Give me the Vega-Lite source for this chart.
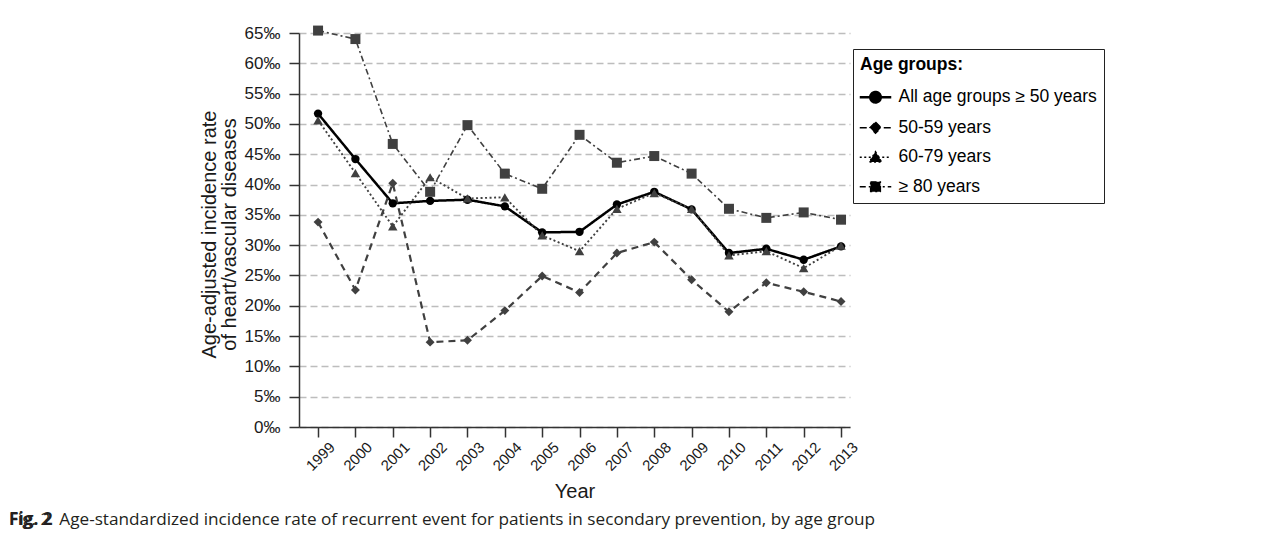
{
  "$schema": "https://vega.github.io/schema/vega-lite/v6.json",
  "width": 551,
  "height": 394,
  "autosize": {"type": "none"},
  "padding": {"left": 299, "top": 33, "right": 431, "bottom": 115},
  "background": "white",
  "config": {
    "view": {"stroke": null},
    "font": "Liberation Sans",
    "axis": {
      "domainColor": "#333333",
      "domainWidth": 1.5,
      "tickColor": "#333333",
      "tickWidth": 1.5,
      "tickSize": 10,
      "labelFont": "Liberation Sans",
      "labelColor": "#1a1a1a",
      "titleFont": "Liberation Sans",
      "titleColor": "#1a1a1a",
      "titleFontWeight": "normal"
    }
  },
  "title": {
    "text": "Fig. 2 \u00a0Age-standardized incidence rate of recurrent event for patients in secondary prevention, by age group",
    "subtitle": "Fig. 2",
    "orient": "bottom",
    "anchor": "start",
    "frame": "group",
    "offset": 10,
    "dx": -290,
    "font": "Open Sans",
    "fontSize": 17.2,
    "fontWeight": "normal",
    "color": "#231f20",
    "subtitleFont": "Open Sans",
    "subtitleFontSize": 17.2,
    "subtitleFontWeight": "bold",
    "subtitleColor": "#231f20",
    "subtitlePadding": -17.2
  },
  "data": {
    "values": [
      {"year": 1999, "group": "All age groups ≥ 50 years", "rate": 51.7},
      {"year": 2000, "group": "All age groups ≥ 50 years", "rate": 44.2},
      {"year": 2001, "group": "All age groups ≥ 50 years", "rate": 36.9},
      {"year": 2002, "group": "All age groups ≥ 50 years", "rate": 37.3},
      {"year": 2003, "group": "All age groups ≥ 50 years", "rate": 37.5},
      {"year": 2004, "group": "All age groups ≥ 50 years", "rate": 36.4},
      {"year": 2005, "group": "All age groups ≥ 50 years", "rate": 32.1},
      {"year": 2006, "group": "All age groups ≥ 50 years", "rate": 32.2},
      {"year": 2007, "group": "All age groups ≥ 50 years", "rate": 36.7},
      {"year": 2008, "group": "All age groups ≥ 50 years", "rate": 38.8},
      {"year": 2009, "group": "All age groups ≥ 50 years", "rate": 35.9},
      {"year": 2010, "group": "All age groups ≥ 50 years", "rate": 28.7},
      {"year": 2011, "group": "All age groups ≥ 50 years", "rate": 29.4},
      {"year": 2012, "group": "All age groups ≥ 50 years", "rate": 27.6},
      {"year": 2013, "group": "All age groups ≥ 50 years", "rate": 29.8},
      {"year": 1999, "group": "50-59 years", "rate": 33.8},
      {"year": 2000, "group": "50-59 years", "rate": 22.6},
      {"year": 2001, "group": "50-59 years", "rate": 40.2},
      {"year": 2002, "group": "50-59 years", "rate": 14.0},
      {"year": 2003, "group": "50-59 years", "rate": 14.3},
      {"year": 2004, "group": "50-59 years", "rate": 19.2},
      {"year": 2005, "group": "50-59 years", "rate": 24.9},
      {"year": 2006, "group": "50-59 years", "rate": 22.2},
      {"year": 2007, "group": "50-59 years", "rate": 28.7},
      {"year": 2008, "group": "50-59 years", "rate": 30.5},
      {"year": 2009, "group": "50-59 years", "rate": 24.3},
      {"year": 2010, "group": "50-59 years", "rate": 19.0},
      {"year": 2011, "group": "50-59 years", "rate": 23.8},
      {"year": 2012, "group": "50-59 years", "rate": 22.3},
      {"year": 2013, "group": "50-59 years", "rate": 20.7},
      {"year": 1999, "group": "60-79 years", "rate": 50.6},
      {"year": 2000, "group": "60-79 years", "rate": 41.9},
      {"year": 2001, "group": "60-79 years", "rate": 33.1},
      {"year": 2002, "group": "60-79 years", "rate": 41.2},
      {"year": 2003, "group": "60-79 years", "rate": 37.7},
      {"year": 2004, "group": "60-79 years", "rate": 37.9},
      {"year": 2005, "group": "60-79 years", "rate": 31.6},
      {"year": 2006, "group": "60-79 years", "rate": 29.0},
      {"year": 2007, "group": "60-79 years", "rate": 36.0},
      {"year": 2008, "group": "60-79 years", "rate": 38.6},
      {"year": 2009, "group": "60-79 years", "rate": 36.0},
      {"year": 2010, "group": "60-79 years", "rate": 28.3},
      {"year": 2011, "group": "60-79 years", "rate": 29.0},
      {"year": 2012, "group": "60-79 years", "rate": 26.2},
      {"year": 2013, "group": "60-79 years", "rate": 29.9},
      {"year": 1999, "group": "≥ 80 years", "rate": 65.4},
      {"year": 2000, "group": "≥ 80 years", "rate": 64.0},
      {"year": 2001, "group": "≥ 80 years", "rate": 46.7},
      {"year": 2002, "group": "≥ 80 years", "rate": 38.8},
      {"year": 2003, "group": "≥ 80 years", "rate": 49.8},
      {"year": 2004, "group": "≥ 80 years", "rate": 41.8},
      {"year": 2005, "group": "≥ 80 years", "rate": 39.3},
      {"year": 2006, "group": "≥ 80 years", "rate": 48.2},
      {"year": 2007, "group": "≥ 80 years", "rate": 43.6},
      {"year": 2008, "group": "≥ 80 years", "rate": 44.7},
      {"year": 2009, "group": "≥ 80 years", "rate": 41.8},
      {"year": 2010, "group": "≥ 80 years", "rate": 36.0},
      {"year": 2011, "group": "≥ 80 years", "rate": 34.5},
      {"year": 2012, "group": "≥ 80 years", "rate": 35.4},
      {"year": 2013, "group": "≥ 80 years", "rate": 34.2}
    ]
  },
  "encoding": {
    "x": {
      "field": "year",
      "type": "quantitative",
      "scale": {"domain": [1998.49, 2013.24], "nice": false, "zero": false},
      "axis": {
        "values": [1999, 2000, 2001, 2002, 2003, 2004, 2005, 2006, 2007, 2008, 2009, 2010, 2011, 2012, 2013],
        "format": "d",
        "grid": false,
        "labelAngle": -45,
        "labelAlign": "center",
        "labelBaseline": "middle",
        "labelPadding": 19,
        "labelOffset": 2,
        "labelFontSize": 15,
        "labelFlush": false,
        "labelOverlap": false,
        "title": "Year",
        "titleFontSize": 20,
        "titleBaseline": "top",
        "titleY": 54
      }
    },
    "y": {
      "field": "rate",
      "type": "quantitative",
      "scale": {"domain": [0, 65], "nice": false},
      "axis": {
        "values": [0, 5, 10, 15, 20, 25, 30, 35, 40, 45, 50, 55, 60, 65],
        "labelExpr": "datum.value + '‰'",
        "grid": true,
        "gridColor": "#bdbdbd",
        "gridDash": [7, 4],
        "gridWidth": 1.3,
        "labelFontSize": 17,
        "labelPadding": 9,
        "title": ["Age-adjusted incidence rate", "of heart/vascular diseases"],
        "titleFontSize": 20,
        "titleLineHeight": 20.5,
        "titleAngle": 270,
        "titleBaseline": "bottom",
        "titleAlign": "center",
        "titleX": -80,
        "titleY": 201
      }
    },
    "color": {
      "field": "group",
      "type": "nominal",
      "scale": {
        "domain": ["All age groups ≥ 50 years", "50-59 years", "60-79 years", "≥ 80 years", "c"],
        "range": ["#000000", "#404040", "#404040", "#404040", "#404040"]
      },
      "legend": null
    }
  },
  "layer": [
    {
      "mark": {"type": "line"},
      "encoding": {
        "strokeDash": {
          "field": "group",
          "type": "nominal",
          "scale": {
            "domain": ["All age groups ≥ 50 years", "50-59 years", "60-79 years", "≥ 80 years"],
            "range": [[1, 0], [7, 5], [2, 2.5], [6, 3, 2, 3]]
          },
          "legend": {
            "title": "Age groups:",
            "orient": "none",
            "legendX": 554,
            "legendY": 16,
            "strokeColor": "#222222",
            "padding": 7,
            "titleFont": "Liberation Sans",
            "titleFontSize": 17.5,
            "titleFontWeight": "bold",
            "titleColor": "#000000",
            "titlePadding": 15,
            "labelFont": "Liberation Sans",
            "labelFontSize": 17.5,
            "labelColor": "#000000",
            "labelOffset": 21,
            "labelLimit": 400,
            "symbolSize": 900,
            "rowPadding": 10.5,
            "encoding": {
              "symbols": {
                "shape": {"value": {"expr": "datum.value === 'All age groups ≥ 50 years' ? 'M-0.6,0L1.5,0M0.1,0A0.35,0.35,0,1,0,0.8,0A0.35,0.35,0,1,0,0.1,0Z' : datum.value === '50-59 years' ? 'M-0.6,0L1.5,0M0.45,-0.38L0.83,0L0.45,0.38L0.07,0Z' : datum.value === '60-79 years' ? 'M-0.6,0L1.5,0M0.45,-0.38L0.87,0.32L0.03,0.32Z' : 'M-0.6,0L1.5,0M0.12,-0.33L0.78,-0.33L0.78,0.33L0.12,0.33Z'"}},
                "fill": {"value": "#000000"},
                "stroke": {"value": "#000000"},
                "strokeWidth": {"value": {"expr": "datum.value === 'All age groups ≥ 50 years' ? 2.5 : 1.3"}}
              }
            }
          }
        },
        "strokeWidth": {
          "field": "group",
          "type": "ordinal",
          "scale": {
            "domain": ["All age groups ≥ 50 years", "50-59 years", "60-79 years", "≥ 80 years", "w"],
            "range": [2.5, 1.3, 1.3, 1.3, 1.3]
          },
          "legend": null
        }
      }
    },
    {
      "mark": {"type": "point", "filled": true, "opacity": 1},
      "encoding": {
        "shape": {
          "field": "group",
          "type": "nominal",
          "scale": {
            "domain": ["All age groups ≥ 50 years", "50-59 years", "60-79 years", "≥ 80 years", "s"],
            "range": ["circle", "diamond", "triangle-up", "square", "square"]
          },
          "legend": null
        },
        "size": {
          "field": "group",
          "type": "ordinal",
          "scale": {
            "domain": ["All age groups ≥ 50 years", "50-59 years", "60-79 years", "≥ 80 years", "z"],
            "range": [70, 110, 130, 90, 90]
          },
          "legend": null
        }
      }
    }
  ]
}
